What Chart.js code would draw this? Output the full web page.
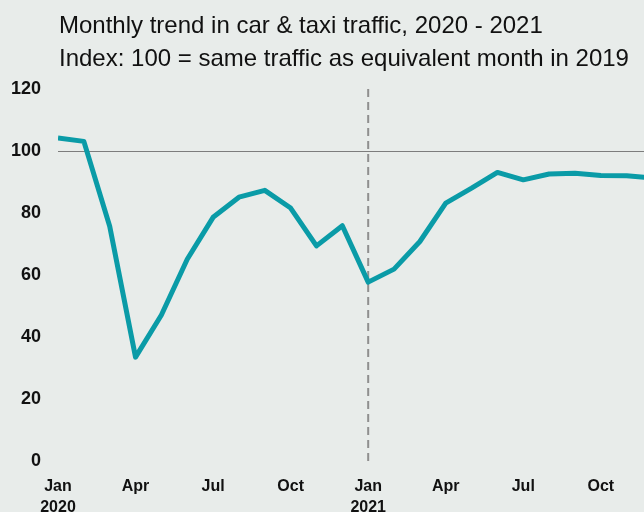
<!DOCTYPE html>
<html>
<head>
<meta charset="utf-8">
<script src="https://cdn.jsdelivr.net/npm/chart.js@4.4.1/dist/chart.umd.min.js"></script>
<style>
  html, body { margin: 0; padding: 0; background: #e8ecea; }
  #wrap { width: 644px; height: 512px; position: relative; }
</style>
</head>
<body>
<div id="wrap"><canvas id="chart"></canvas></div>
<script>
// Car & taxi traffic index (100 = same month in 2019), Jan 2020 - Dec 2021
const months = ['Jan', 'Feb', 'Mar', 'Apr', 'May', 'Jun', 'Jul', 'Aug', 'Sep', 'Oct', 'Nov', 'Dec',
                'Jan', 'Feb', 'Mar', 'Apr', 'May', 'Jun', 'Jul', 'Aug', 'Sep', 'Oct', 'Nov', 'Dec'];
const years = ['2020', '', '', '', '', '', '', '', '', '', '', '',
               '2021', '', '', '', '', '', '', '', '', '', '', ''];
const trafficIndex = [104.2, 103.1, 75.7, 33.5, 47.1, 65.1, 78.6, 85.1, 87.3, 81.6, 69.4, 75.9,
                      57.7, 61.9, 70.8, 83.2, 88.0, 93.1, 90.7, 92.6, 92.8, 92.1, 92.0, 91.3];
const titleLines = ['Monthly trend in car & taxi traffic, 2020 - 2021',
                    'Index: 100 = same traffic as equivalent month in 2019'];
const yTicks = [0, 20, 40, 60, 80, 100, 120];
const baselineValue = 100;
const splitMonth = 12; // Jan 2021

// the source chart is cropped on the right, just past Nov 2021
const xMax = 22.67;

const FONT = '"Liberation Sans", Arial, sans-serif';

const titlePlugin = {
    id: 'leftTitle',
    afterDraw(chart) {
        const ctx = chart.ctx;
        ctx.save();
        ctx.fillStyle = '#111';
        ctx.font = '24px ' + FONT;
        ctx.textBaseline = 'alphabetic';
        ctx.textAlign = 'left';
        ctx.fillText(titleLines[0], 59, 33);
        ctx.fillText(titleLines[1], 59, 66);
        ctx.restore();
    }
};

const splitLinePlugin = {
    id: 'splitLine',
    beforeDatasetsDraw(chart) {
        const x = chart.scales.x.getPixelForValue(splitMonth);
        const area = chart.chartArea;
        const ctx = chart.ctx;
        ctx.save();
        ctx.strokeStyle = '#8f8f8f';
        ctx.lineWidth = 2;
        ctx.setLineDash([8, 5]);
        ctx.beginPath();
        ctx.moveTo(x, area.top);
        ctx.lineTo(x, area.bottom);
        ctx.stroke();
        ctx.restore();
    }
};

new Chart(document.getElementById('chart'), {
    type: 'line',
    data: {
        datasets: [{
            data: trafficIndex.map((v, i) => ({ x: i, y: v })),
            borderColor: '#0a9ba7',
            borderWidth: 5,
            borderJoinStyle: 'round',
            pointRadius: 0,
            tension: 0,
            fill: false
        }]
    },
    options: {
        responsive: true,
        maintainAspectRatio: false,
        animation: false,
        layout: { padding: { top: 89, left: 10, right: 0, bottom: 0 } },
        plugins: {
            legend: { display: false },
            tooltip: { enabled: false }
        },
        scales: {
            x: {
                type: 'linear',
                min: 0,
                max: xMax,
                afterFit(scale) { scale.height = 51; },
                grid: { display: false, drawTicks: false },
                border: { display: false },
                ticks: {
                    stepSize: 3,
                    includeBounds: false,
                    autoSkip: false,
                    maxRotation: 0,
                    padding: 15,
                    color: '#111',
                    font: { family: FONT, size: 16, weight: 'bold', lineHeight: 1.3 },
                    callback(v) {
                        if (!Number.isInteger(v) || v % 3 !== 0) return '';
                        return years[v] ? [months[v], years[v]] : months[v];
                    }
                }
            },
            y: {
                min: yTicks[0],
                max: yTicks[yTicks.length - 1],
                afterBuildTicks(scale) { scale.ticks = yTicks.map(v => ({ value: v })); },
                afterFit(scale) { scale.width = 48; },
                border: { display: false },
                grid: {
                    drawTicks: false,
                    color: ctx => (ctx.tick && ctx.tick.value === baselineValue) ? '#7d7d7d' : 'rgba(0,0,0,0)',
                    lineWidth: 1
                },
                ticks: {
                    padding: 17,
                    color: '#111',
                    font: { family: FONT, size: 18, weight: 'bold' }
                }
            }
        }
    },
    plugins: [splitLinePlugin, titlePlugin]
});
</script>
</body>
</html>
